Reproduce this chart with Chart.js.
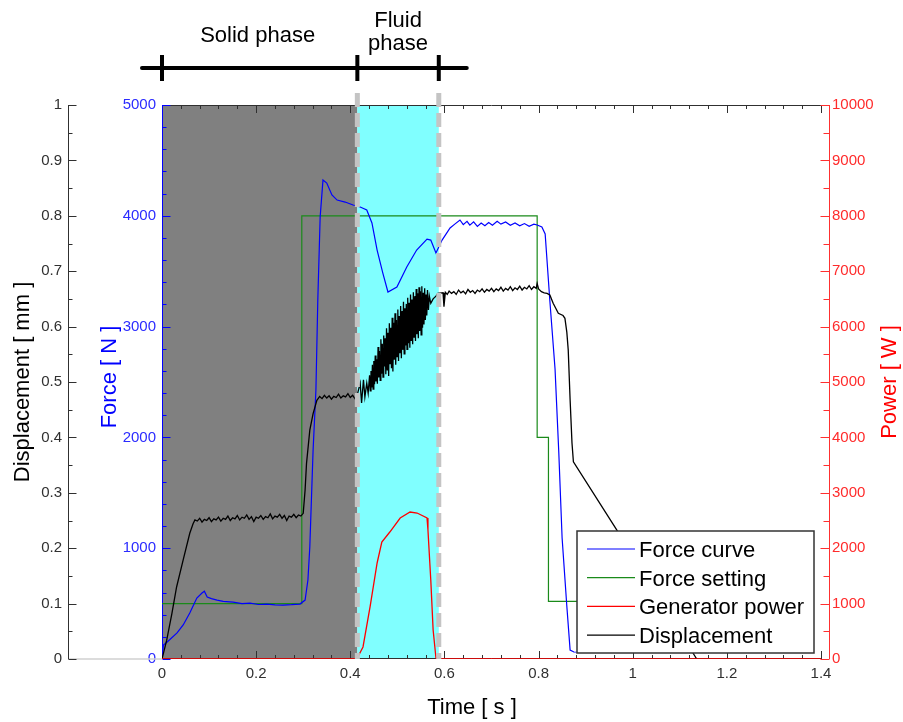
<!DOCTYPE html>
<html>
<head>
<meta charset="utf-8">
<title>Force, displacement and generator power</title>
<script src="https://cdn.jsdelivr.net/npm/chart.js@4.4.1/dist/chart.umd.min.js"></script>
<style>
  html, body { margin: 0; padding: 0; background: #fff; }
  #wrap { width: 903px; height: 722px; position: relative; }
</style>
</head>
<body>
<div id="wrap"><canvas id="weldChart"></canvas></div>
<script>
const FONT = "'Liberation Sans', Arial, Helvetica, sans-serif";

// phase boundaries in seconds
const solidEnd = 0.415;
const fluidEnd = 0.588;
const phaseNames = ['Solid phase', 'Fluid', 'phase'];

const seriesNames = ['Force curve', 'Force setting', 'Generator power', 'Displacement'];
const seriesColors = ['#0000ff', '#1a8a1a', '#ff0000', '#000000'];

// [time s, force N]
const forceCurve = [
  [0, 0], [0.003, 126], [0.011, 153], [0.032, 235], [0.045, 307], [0.059, 415], [0.074, 550],
  [0.085, 596], [0.090, 612], [0.096, 560], [0.105, 545], [0.117, 532], [0.130, 520], [0.151, 514],
  [0.170, 500], [0.187, 505], [0.205, 492], [0.223, 496], [0.240, 488], [0.257, 487], [0.275, 490],
  [0.293, 496], [0.304, 532], [0.310, 713], [0.314, 1011], [0.321, 1886], [0.327, 2428], [0.331, 3240],
  [0.336, 3989], [0.342, 4323], [0.350, 4296], [0.361, 4188], [0.372, 4142], [0.389, 4124], [0.406, 4097],
  [0.421, 4079], [0.435, 4052], [0.446, 3935], [0.457, 3691], [0.469, 3484], [0.480, 3312], [0.499, 3357],
  [0.520, 3538], [0.541, 3691], [0.563, 3790], [0.571, 3781], [0.582, 3664], [0.595, 3781], [0.612, 3890],
  [0.622, 3925], [0.633, 3962], [0.640, 3920], [0.648, 3950], [0.654, 3915], [0.662, 3945], [0.670, 3905],
  [0.678, 3935], [0.686, 3910], [0.694, 3940], [0.702, 3915], [0.712, 3950], [0.720, 3925], [0.730, 3945],
  [0.740, 3915], [0.750, 3935], [0.760, 3910], [0.770, 3930], [0.780, 3905], [0.790, 3925], [0.797, 3917],
  [0.807, 3899], [0.814, 3836], [0.824, 3231], [0.835, 2617], [0.843, 1859], [0.850, 1092], [0.860, 478],
  [0.867, 81], [0.875, 63], [1.000, 60]
];

// [time s, force N]
const forceSetting = [
  [0, 500], [0.297, 500], [0.297, 4000], [0.797, 4000], [0.797, 2000], [0.821, 2000], [0.821, 520], [1.2, 520]
];

// [time s, power W]
const generatorPower = [
  [0, 0], [0.414, 0], [0.416, 36], [0.427, 217], [0.442, 939], [0.457, 1733], [0.467, 2112], [0.484, 2292],
  [0.506, 2545], [0.527, 2653], [0.542, 2635], [0.563, 2545], [0.565, 2329], [0.571, 1426], [0.576, 523],
  [0.582, 18], [0.585, 0], [1.4, 0]
];

// [time s, displacement mm]
const displacement = [
  [0, 0], [0.003, 0.010], [0.010, 0.034], [0.021, 0.082], [0.031, 0.130], [0.045, 0.179], [0.059, 0.227],
  [0.066, 0.244], [0.070, 0.251], [0.075, 0.249], [0.080, 0.254], [0.085, 0.247], [0.090, 0.252],
  [0.095, 0.250], [0.100, 0.255], [0.105, 0.248], [0.110, 0.253], [0.115, 0.251], [0.120, 0.256],
  [0.125, 0.249], [0.130, 0.254], [0.135, 0.252], [0.140, 0.258], [0.145, 0.250], [0.150, 0.255],
  [0.155, 0.253], [0.160, 0.259], [0.165, 0.251], [0.170, 0.256], [0.175, 0.254], [0.180, 0.260],
  [0.185, 0.252], [0.190, 0.257], [0.195, 0.248], [0.200, 0.256], [0.205, 0.254], [0.210, 0.259],
  [0.215, 0.252], [0.220, 0.257], [0.225, 0.255], [0.230, 0.262], [0.235, 0.253], [0.240, 0.258],
  [0.245, 0.256], [0.250, 0.261], [0.255, 0.254], [0.260, 0.259], [0.265, 0.250], [0.270, 0.258],
  [0.275, 0.256], [0.280, 0.261], [0.285, 0.255], [0.290, 0.260], [0.295, 0.258], [0.300, 0.263],
  [0.304, 0.305], [0.307, 0.353], [0.314, 0.413], [0.321, 0.443], [0.329, 0.467],
  [0.335, 0.474], [0.340, 0.470], [0.345, 0.476], [0.350, 0.471], [0.355, 0.475], [0.360, 0.469],
  [0.365, 0.474], [0.370, 0.472], [0.375, 0.478], [0.380, 0.471], [0.385, 0.475], [0.390, 0.473],
  [0.395, 0.479], [0.400, 0.472], [0.405, 0.476], [0.410, 0.470], [0.414, 0.474],
  [0.421, 0.498], [0.424, 0.462], [0.428, 0.504], [0.431, 0.473], [0.435, 0.498], [0.438, 0.480],
  [0.4410, 0.512], [0.4425, 0.484], [0.4440, 0.520], [0.4455, 0.490], [0.4470, 0.531], [0.4485, 0.487],
  [0.4500, 0.538], [0.4515, 0.496], [0.4530, 0.548], [0.4545, 0.501], [0.4560, 0.541], [0.4575, 0.497],
  [0.4590, 0.563], [0.4605, 0.508], [0.4620, 0.556], [0.4635, 0.503], [0.4650, 0.577], [0.4665, 0.515],
  [0.4680, 0.569], [0.4695, 0.509], [0.4710, 0.584], [0.4725, 0.528], [0.4740, 0.579], [0.4755, 0.514],
  [0.4770, 0.597], [0.4785, 0.522], [0.4800, 0.589], [0.4815, 0.511], [0.4830, 0.606], [0.4845, 0.533],
  [0.4860, 0.598], [0.4875, 0.525], [0.4890, 0.616], [0.4905, 0.519], [0.4920, 0.607], [0.4935, 0.540],
  [0.4950, 0.624], [0.4965, 0.531], [0.4980, 0.612], [0.4995, 0.546], [0.5010, 0.631], [0.5025, 0.538],
  [0.5040, 0.619], [0.5055, 0.552], [0.5070, 0.637], [0.5085, 0.543], [0.5100, 0.628], [0.5115, 0.558],
  [0.5130, 0.645], [0.5145, 0.551], [0.5160, 0.633], [0.5175, 0.566], [0.5190, 0.641], [0.5205, 0.559],
  [0.5220, 0.652], [0.5235, 0.570], [0.5250, 0.643], [0.5265, 0.562], [0.5280, 0.658], [0.5295, 0.575],
  [0.5310, 0.649], [0.5325, 0.568], [0.5340, 0.662], [0.5355, 0.581], [0.5370, 0.655], [0.5385, 0.574],
  [0.5400, 0.668], [0.5415, 0.586], [0.5430, 0.660], [0.5445, 0.579], [0.5460, 0.671], [0.5475, 0.592],
  [0.5490, 0.664], [0.5505, 0.585], [0.5520, 0.673], [0.5535, 0.598], [0.5550, 0.661], [0.5565, 0.604],
  [0.5580, 0.669], [0.5595, 0.612], [0.5610, 0.658], [0.5625, 0.620], [0.5640, 0.666], [0.5660, 0.630],
  [0.5680, 0.655], [0.5710, 0.642], [0.576, 0.650], [0.582, 0.655], [0.586, 0.660],
  [0.597, 0.661], [0.599, 0.636], [0.602, 0.662], [0.606, 0.658], [0.610, 0.664], [0.615, 0.660],
  [0.620, 0.663], [0.625, 0.658], [0.630, 0.666], [0.635, 0.661], [0.640, 0.664], [0.645, 0.659],
  [0.650, 0.667], [0.655, 0.662], [0.660, 0.665], [0.665, 0.660], [0.670, 0.666], [0.675, 0.663],
  [0.680, 0.668], [0.685, 0.662], [0.690, 0.667], [0.695, 0.664], [0.700, 0.669], [0.705, 0.663],
  [0.710, 0.668], [0.715, 0.665], [0.720, 0.671], [0.725, 0.664], [0.730, 0.669], [0.735, 0.666],
  [0.740, 0.672], [0.745, 0.665], [0.750, 0.670], [0.755, 0.667], [0.760, 0.673], [0.765, 0.666],
  [0.770, 0.671], [0.775, 0.668], [0.780, 0.674], [0.785, 0.667], [0.790, 0.672], [0.795, 0.669],
  [0.797, 0.678], [0.800, 0.668], [0.806, 0.663], [0.812, 0.661], [0.818, 0.660], [0.824, 0.657],
  [0.831, 0.642], [0.842, 0.624], [0.852, 0.620], [0.856, 0.615], [0.860, 0.590], [0.863, 0.558],
  [0.867, 0.468], [0.871, 0.390], [0.874, 0.356], [0.966, 0.233], [1.136, 0]
];

function toPoints(pairs) {
  return pairs.map(p => ({ x: p[0], y: p[1] }));
}

function isMajor(v, step) {
  return Math.abs(v / step - Math.round(v / step)) < 1e-6;
}

function fmt(v) {
  return String(Number(v.toFixed(1)));
}

function line(ctx, x1, y1, x2, y2) {
  ctx.beginPath();
  ctx.moveTo(x1, y1);
  ctx.lineTo(x2, y2);
  ctx.stroke();
}

// short tick marks pointing into the plot
function yTicks(ctx, scale, x, dir, step, major, minor) {
  scale.ticks.forEach(t => {
    const y = Math.round(scale.getPixelForValue(t.value)) + 0.5;
    const len = isMajor(t.value, step) ? major : minor;
    line(ctx, x, y, x + dir * len, y);
  });
}

function xTicks(ctx, scale, y, dir, step, major, minor) {
  scale.ticks.forEach(t => {
    const x = Math.round(scale.getPixelForValue(t.value)) + 0.5;
    const len = isMajor(t.value, step) ? major : minor;
    line(ctx, x, y, x, y + dir * len);
  });
}

function drawFrame(chart) {
  const { ctx, chartArea: a, scales: { x, y, y1, y2 } } = chart;
  const powerAxisX = a.right + 8.5;

  ctx.lineWidth = 1.5;
  ctx.strokeStyle = '#d0d0d0';
  line(ctx, y.right, a.bottom, a.left, a.bottom);

  ctx.lineWidth = 1;
  ctx.strokeStyle = '#303030';
  line(ctx, a.left, a.top + 0.5, a.right, a.top + 0.5);
  line(ctx, a.left, a.bottom - 0.5, a.right, a.bottom - 0.5);
  line(ctx, y.right + 0.5, a.top, y.right + 0.5, a.bottom);
  yTicks(ctx, y, y.right + 0.5, 1, 0.1, 8, 4);
  xTicks(ctx, x, a.bottom, -1, 0.2, 8, 4);
  xTicks(ctx, x, a.top, 1, 0.2, 8, 4);

  ctx.strokeStyle = '#0000ff';
  line(ctx, a.left + 0.5, a.top, a.left + 0.5, a.bottom);
  yTicks(ctx, y1, a.left + 0.5, 1, 1000, 8, 4);

  ctx.strokeStyle = '#ff3030';
  line(ctx, powerAxisX, a.top, powerAxisX, a.bottom);
  yTicks(ctx, y2, powerAxisX, -1, 1000, 9, 6);
}

const phaseShading = {
  id: 'phaseShading',
  beforeDatasetsDraw(chart) {
    const { ctx, chartArea: a, scales: { x } } = chart;
    const x0 = x.getPixelForValue(0);
    const x1 = x.getPixelForValue(solidEnd);
    const x2 = x.getPixelForValue(fluidEnd);
    ctx.save();
    ctx.fillStyle = '#808080';
    ctx.fillRect(x0, a.top, x1 - x0, a.bottom - a.top);
    ctx.fillStyle = '#80ffff';
    ctx.fillRect(x1, a.top, x2 - x1, a.bottom - a.top);
    drawFrame(chart);
    ctx.restore();
  }
};

const overlay = {
  id: 'overlay',
  afterDatasetsDraw(chart) {
    const { ctx, chartArea: a, scales: { x } } = chart;
    const x0 = x.getPixelForValue(0);
    const x1 = x.getPixelForValue(solidEnd);
    const x2 = x.getPixelForValue(fluidEnd);
    const midY = (a.top + a.bottom) / 2;
    ctx.save();

    // dashed phase boundaries
    ctx.strokeStyle = '#c4c4c4';
    ctx.lineWidth = 5;
    ctx.setLineDash([14, 6]);
    [x1, x2].forEach(px => line(ctx, px, a.top - 12, px, a.bottom));
    ctx.setLineDash([]);

    // phase bar above the plot
    ctx.strokeStyle = '#000';
    ctx.lineWidth = 4;
    ctx.lineCap = 'round';
    line(ctx, x0 - 20, 68, x2 + 28, 68);
    ctx.lineCap = 'butt';
    [x0, x1, x2].forEach(px => line(ctx, px, 55, px, 81));

    ctx.fillStyle = '#000';
    ctx.font = '22px ' + FONT;
    ctx.textAlign = 'center';
    ctx.textBaseline = 'alphabetic';
    ctx.fillText(phaseNames[0], (x0 + x1) / 2 - 2, 42);
    ctx.fillText(phaseNames[1], (x1 + x2) / 2, 27);
    ctx.fillText(phaseNames[2], (x1 + x2) / 2, 50);

    // axis titles
    ctx.textBaseline = 'middle';
    ctx.fillText('Time [ s ]', a.left + 310, 708);
    const vTitle = (text, cx, cy, color) => {
      ctx.save();
      ctx.translate(cx, cy);
      ctx.rotate(-Math.PI / 2);
      ctx.fillStyle = color;
      ctx.fillText(text, 0, 0);
      ctx.restore();
    };
    vTitle('Displacement [ mm ]', 23, midY, '#000');
    vTitle('Force [ N ]', 110, midY - 5, '#0000ff');
    vTitle('Power [ W ]', 890, midY, '#ff0000');

    // legend box in the lower right corner
    const box = { left: a.right - 244, top: a.bottom - 128, width: 237, height: 122 };
    ctx.fillStyle = '#fff';
    ctx.fillRect(box.left, box.top, box.width, box.height);
    ctx.strokeStyle = '#333';
    ctx.lineWidth = 1.5;
    ctx.strokeRect(box.left, box.top, box.width, box.height);
    ctx.textAlign = 'left';
    ctx.textBaseline = 'alphabetic';
    chart.data.datasets.forEach((ds, i) => {
      const rowY = box.top + 18 + i * 28.7;
      ctx.strokeStyle = ds.borderColor;
      ctx.lineWidth = 1.2;
      line(ctx, box.left + 10, rowY, box.left + 58, rowY);
      ctx.fillStyle = '#000';
      ctx.fillText(ds.label, box.left + 62, rowY + 8);
    });
    ctx.restore();
  }
};

Chart.defaults.font.family = FONT;

function tickFont() {
  return { size: 15 };
}

new Chart(document.getElementById('weldChart'), {
  type: 'line',
  data: {
    datasets: [
      { label: seriesNames[0], data: toPoints(forceCurve), yAxisID: 'y1', borderColor: seriesColors[0], borderWidth: 1.2, order: 2 },
      { label: seriesNames[1], data: toPoints(forceSetting), yAxisID: 'y1', borderColor: seriesColors[1], borderWidth: 1.2, order: 3 },
      { label: seriesNames[2], data: toPoints(generatorPower), yAxisID: 'y2', borderColor: seriesColors[2], borderWidth: 1.3, order: 0 },
      { label: seriesNames[3], data: toPoints(displacement), yAxisID: 'y', borderColor: seriesColors[3], borderWidth: 1.3, order: 1 }
    ]
  },
  options: {
    responsive: true,
    maintainAspectRatio: false,
    animation: false,
    events: [],
    layout: { padding: { top: 105, left: 0, right: 0, bottom: 0 } },
    elements: {
      point: { radius: 0 },
      line: { tension: 0, fill: false }
    },
    plugins: {
      legend: { display: false },
      tooltip: { enabled: false }
    },
    scales: {
      x: {
        type: 'linear',
        position: 'bottom',
        min: 0,
        max: 1.4,
        afterFit: s => { s.height = 63; },
        grid: { display: false, drawTicks: false },
        border: { display: false },
        ticks: {
          stepSize: 0.04,
          autoSkip: false,
          maxRotation: 0,
          minRotation: 0,
          padding: 6,
          color: '#303030',
          font: tickFont(),
          callback: v => isMajor(v, 0.2) ? fmt(v) : ''
        }
      },
      y: {
        position: 'left',
        weight: 1,
        min: 0,
        max: 1,
        afterFit: s => { s.width = 68; },
        grid: { display: false, drawTicks: false },
        border: { display: false },
        ticks: {
          stepSize: 0.05,
          autoSkip: false,
          padding: 6,
          color: '#303030',
          font: tickFont(),
          callback: v => isMajor(v, 0.1) ? fmt(v) : ''
        }
      },
      y1: {
        position: 'left',
        weight: 0,
        min: 0,
        max: 5000,
        afterFit: s => { s.width = 94; },
        grid: { display: false, drawTicks: false },
        border: { display: false },
        ticks: {
          stepSize: 200,
          autoSkip: false,
          padding: 6,
          color: '#2b2bff',
          font: tickFont(),
          callback: v => isMajor(v, 1000) ? String(v) : ''
        }
      },
      y2: {
        position: 'right',
        min: 0,
        max: 10000,
        afterFit: s => { s.width = 82; },
        grid: { display: false, drawTicks: false },
        border: { display: false },
        ticks: {
          stepSize: 500,
          autoSkip: false,
          padding: 11,
          color: '#ff2b2b',
          font: tickFont(),
          callback: v => isMajor(v, 1000) ? String(v) : ''
        }
      }
    }
  },
  plugins: [phaseShading, overlay]
});
</script>
</body>
</html>
